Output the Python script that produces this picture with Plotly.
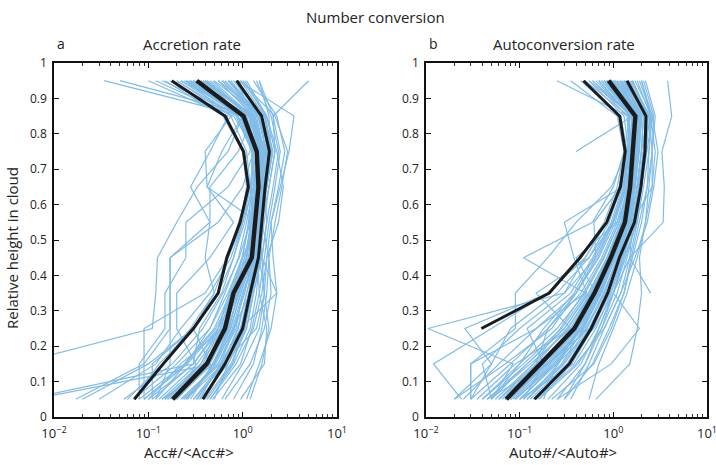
import plotly.graph_objects as go

# Relative height in cloud at which each profile is sampled
HEIGHTS = [0.05, 0.15, 0.25, 0.35, 0.45, 0.55, 0.65, 0.75, 0.85, 0.95]

# Individual normalised accretion-rate profiles (bottom -> top)
ACC_PROFILES = [
    [0.02, 0.10, 0.30, 0.55, 0.70, 0.95, 1.10, 1.00, 0.62, 0.15],
    [0.06, 0.14, 0.28, 0.50, 0.68, 0.90, 1.20, 1.00, 0.66, 0.18],
    [0.07, 0.13, 0.31, 0.56, 0.66, 0.93, 1.15, 1.05, 0.64, 0.17],
    [0.18, 0.42, 0.62, 0.80, 1.25, 1.35, 1.45, 1.40, 1.00, 0.33],
    [0.38, 0.65, 1.00, 1.20, 1.45, 1.60, 1.75, 1.90, 1.60, 0.85],
    [0.25, 0.50, 0.75, 0.95, 1.30, 1.40, 1.50, 1.50, 1.20, 0.45],
    [0.10, 0.30, 0.55, 0.75, 1.10, 1.20, 1.35, 1.30, 0.90, 0.28],
    [0.45, 0.80, 1.20, 1.40, 1.50, 1.70, 1.90, 2.20, 1.80, 1.10],
    [0.60, 1.00, 1.50, 1.70, 1.60, 1.80, 2.10, 2.40, 2.00, 1.40],
    [1.10, 1.50, 2.00, 2.30, 2.10, 2.00, 2.40, 2.80, 2.30, 1.30],
    [0.80, 1.30, 1.60, 1.80, 1.90, 2.20, 2.60, 3.00, 2.20, 0.95],
    [0.15, 0.38, 0.58, 0.78, 1.20, 1.30, 1.20, 1.10, 0.75, 0.25],
    [0.12, 0.25, 0.45, 0.65, 0.90, 1.10, 1.30, 1.25, 0.85, 0.20],
    [0.03, 0.12, 0.22, 0.45, 0.75, 1.00, 1.30, 1.60, 1.30, 0.40],
    [0.22, 0.55, 0.85, 1.00, 1.40, 1.45, 1.60, 1.70, 1.40, 0.60],
    [0.33, 0.60, 0.90, 1.10, 1.35, 1.50, 1.60, 1.80, 1.45, 0.70],
    [0.09, 0.09, 0.17, 0.17, 0.17, 0.55, 1.00, 1.30, 1.10, 0.30],
    [0.003, 0.004, 0.11, 0.12, 0.125, 0.20, 0.33, 0.70, 1.00, 0.40],
    [0.005, 0.30, 0.35, 0.60, 0.80, 1.00, 1.20, 1.30, 0.95, 0.25],
    [0.006, 0.50, 0.70, 0.90, 1.10, 1.25, 1.40, 1.55, 1.20, 0.42],
    [0.017, 0.09, 0.09, 0.40, 0.70, 1.00, 1.20, 1.40, 0.80, 0.12],
    [0.08, 0.08, 0.15, 0.15, 0.25, 0.25, 0.70, 1.20, 1.20, 0.22],
    [0.20, 0.45, 0.30, 0.50, 0.40, 0.45, 0.45, 0.90, 1.30, 0.55],
    [0.50, 0.70, 1.10, 1.30, 1.55, 1.65, 1.70, 2.00, 1.70, 0.95],
    [0.28, 0.48, 0.72, 0.90, 1.20, 1.35, 1.55, 1.60, 1.25, 0.36],
    [0.16, 0.40, 0.68, 0.85, 1.05, 1.25, 1.40, 1.45, 1.10, 0.30],
    [0.40, 0.75, 1.10, 1.30, 1.60, 1.80, 1.70, 1.90, 1.50, 0.75],
    [0.07, 0.20, 0.45, 0.70, 1.00, 1.40, 1.80, 2.10, 1.70, 0.55],
    [0.95, 1.70, 1.80, 1.50, 1.45, 1.50, 1.60, 2.00, 1.90, 1.50],
    [0.35, 0.58, 0.95, 2.30, 1.60, 1.50, 1.35, 1.50, 1.30, 0.85],
    [0.30, 0.60, 0.95, 1.20, 1.40, 1.60, 1.90, 2.20, 2.10, 5.00],
    [0.45, 0.85, 1.30, 1.60, 1.80, 2.00, 2.50, 3.10, 3.50, 0.90],
    [0.11, 0.11, 0.30, 0.55, 0.80, 1.05, 1.25, 1.50, 1.15, 0.27],
    [0.25, 0.62, 1.40, 1.70, 1.50, 1.30, 1.55, 1.65, 1.30, 0.40],
    [0.055, 0.18, 0.38, 0.62, 0.92, 1.20, 1.35, 1.40, 1.00, 0.034],
    [0.14, 0.50, 0.80, 1.20, 1.10, 1.30, 1.50, 1.70, 1.30, 0.05],
    [0.65, 1.20, 1.70, 2.00, 1.90, 1.60, 1.40, 1.70, 1.60, 0.70],
    [0.20, 0.32, 0.20, 0.20, 0.45, 0.80, 0.42, 0.60, 1.00, 0.14],
    [0.09, 0.25, 0.52, 0.80, 1.15, 1.30, 1.45, 1.50, 1.05, 0.32],
    [0.35, 0.70, 1.05, 1.25, 1.50, 1.55, 1.65, 1.75, 1.50, 0.65],
    [0.12, 0.17, 0.17, 0.17, 0.17, 0.45, 0.28, 0.45, 0.70, 0.10],
    [0.48, 0.95, 1.25, 1.50, 1.70, 1.90, 2.20, 2.50, 2.10, 1.50],
    [0.24, 0.55, 0.80, 1.05, 1.30, 1.50, 1.80, 2.00, 1.60, 0.80],
    [0.09, 0.26, 0.55, 0.85, 1.20, 1.40, 1.60, 1.70, 1.35, 0.38],
    [0.16, 0.36, 0.62, 0.75, 1.00, 1.15, 1.25, 1.25, 0.95, 0.28],
    [0.30, 0.66, 0.95, 1.15, 1.40, 1.60, 1.75, 1.85, 1.55, 0.50],
    [1.20, 1.60, 1.90, 1.70, 1.80, 2.40, 2.70, 2.30, 1.80, 1.00],
    [0.10, 0.22, 0.62, 0.90, 1.25, 1.45, 0.42, 0.40, 0.75, 0.20],
    [0.15, 0.40, 0.66, 0.82, 1.22, 1.33, 1.50, 1.45, 1.05, 0.35],
    [0.20, 0.45, 0.70, 0.92, 1.30, 1.42, 1.55, 1.55, 1.15, 0.42],
    [0.13, 0.33, 0.60, 0.85, 1.15, 1.38, 1.52, 1.62, 1.20, 0.30],
    [0.26, 0.52, 0.78, 1.00, 1.35, 1.48, 1.62, 1.70, 1.35, 0.55],
    [0.11, 0.30, 0.58, 0.78, 1.10, 1.30, 1.42, 1.35, 0.95, 0.24],
    [0.19, 0.48, 0.74, 0.96, 1.28, 1.45, 1.58, 1.65, 1.25, 0.48],
    [0.32, 0.62, 0.88, 1.10, 1.42, 1.52, 1.68, 1.80, 1.45, 0.62],
    [0.08, 0.24, 0.50, 0.74, 1.05, 1.25, 1.38, 1.40, 1.00, 0.26],
    [0.17, 0.43, 0.65, 0.88, 1.18, 1.40, 1.55, 1.58, 1.22, 0.38],
    [0.23, 0.58, 0.82, 1.02, 1.32, 1.50, 1.70, 1.95, 1.55, 0.72],
    [0.42, 0.78, 1.05, 1.25, 1.50, 1.62, 1.80, 2.05, 1.75, 1.05],
    [0.14, 0.36, 0.55, 0.72, 0.98, 1.18, 1.32, 1.28, 0.88, 0.22],
]

# Individual normalised autoconversion-rate profiles (bottom -> top)
AUTO_PROFILES = [
    [0.07, 0.17, 0.38, 0.62, 0.95, 1.30, 1.50, 1.60, 1.70, 0.90],
    [0.10, 0.25, 0.50, 0.80, 1.10, 1.50, 1.80, 2.00, 2.10, 1.20],
    [0.05, 0.12, 0.30, 0.55, 0.85, 1.20, 1.40, 1.50, 1.50, 0.70],
    [0.14, 0.34, 0.58, 0.87, 1.15, 1.65, 1.95, 2.20, 2.20, 1.40],
    [0.03, 0.08, 0.20, 0.45, 0.75, 1.10, 1.35, 1.45, 1.30, 0.55],
    [0.20, 0.45, 0.70, 1.00, 1.30, 1.80, 2.10, 2.40, 2.50, 1.80],
    [0.06, 0.15, 0.32, 0.58, 0.90, 1.25, 1.55, 1.70, 1.80, 1.00],
    [0.09, 0.22, 0.45, 0.70, 1.00, 1.40, 1.60, 1.75, 1.90, 1.10],
    [0.04, 0.10, 0.25, 0.50, 0.80, 1.15, 1.45, 1.60, 1.60, 0.75],
    [0.12, 0.30, 0.55, 0.85, 1.20, 1.55, 1.80, 2.00, 2.30, 1.50],
    [0.025, 0.06, 0.15, 0.40, 0.70, 1.05, 1.30, 1.40, 1.20, 0.45],
    [0.30, 0.60, 0.90, 1.30, 1.60, 2.00, 2.30, 2.60, 2.40, 1.60],
    [0.08, 0.18, 0.12, 0.35, 0.60, 0.95, 1.25, 1.55, 1.65, 0.85],
    [0.05, 0.04, 0.10, 0.30, 0.65, 1.00, 1.40, 1.70, 1.90, 1.30],
    [0.15, 0.40, 0.80, 1.20, 1.70, 2.30, 2.70, 3.00, 2.60, 2.00],
    [0.02, 0.05, 0.08, 0.25, 0.55, 0.90, 1.20, 1.50, 1.40, 0.60],
    [0.024, 0.012, 0.05, 0.20, 0.45, 0.80, 1.10, 1.30, 1.10, 0.35],
    [0.05, 0.085, 0.0105, 0.30, 0.50, 0.85, 1.20, 1.40, 1.50, 0.80],
    [0.35, 0.55, 0.80, 1.20, 1.50, 1.80, 2.00, 2.20, 2.30, 1.30],
    [0.03, 0.03, 0.09, 0.09, 0.20, 0.40, 0.95, 1.40, 1.80, 0.95],
    [0.03, 0.03, 0.15, 0.50, 0.11, 0.60, 1.00, 1.30, 1.50, 0.70],
    [0.55, 0.70, 1.00, 1.40, 1.80, 2.20, 2.60, 2.80, 2.50, 2.00],
    [0.11, 0.28, 0.48, 0.75, 1.05, 1.45, 1.70, 1.90, 2.00, 1.25],
    [0.07, 0.20, 0.42, 0.66, 0.98, 1.35, 1.60, 1.80, 1.85, 1.00],
    [0.045, 0.13, 0.35, 0.60, 0.92, 1.28, 1.50, 1.65, 1.75, 0.95],
    [0.18, 0.25, 0.62, 1.00, 1.35, 1.75, 2.00, 2.30, 2.60, 1.70],
    [0.08, 0.19, 0.40, 0.65, 0.40, 1.10, 1.50, 1.70, 1.55, 0.65],
    [None, None, None, None, None, None, None, 0.40, 1.60, 0.90],
    [None, None, None, 2.50, 1.50, 1.60, 1.90, 2.10, 2.30, 1.40],
    [0.30, 0.50, 0.70, 1.00, 1.50, 3.40, 3.50, 3.30, 4.20, 3.80],
    [0.25, 0.50, 0.75, 1.00, 1.30, 1.60, 2.60, 2.60, 2.80, 2.20],
    [0.22, 0.62, 0.95, 1.30, 1.55, 1.90, 2.30, 2.40, 2.60, 1.90],
    [0.06, 0.14, 0.27, 0.48, 0.78, 1.15, 1.40, 1.55, 1.60, 0.60],
    [0.04, 0.11, 0.28, 0.52, 0.38, 0.30, 1.25, 1.50, 1.70, 0.80],
    [0.10, 0.38, 0.65, 0.95, 1.25, 1.60, 1.85, 2.10, 2.20, 1.35],
    [0.02, 0.07, 0.22, 0.40, 0.68, 1.00, 1.30, 1.50, 1.45, 0.50],
    [0.09, 0.24, 0.52, 0.78, 1.12, 1.50, 1.70, 1.85, 1.95, 1.15],
    [0.16, 0.42, 0.75, 1.10, 1.40, 1.75, 2.00, 2.20, 2.45, 1.55],
    [0.65, 1.50, 1.80, 2.00, 1.90, 2.20, 2.40, 2.60, 2.70, 2.10],
    [0.05, 0.10, 0.18, 0.38, 0.62, 0.98, 1.30, 1.50, 1.45, 0.25],
    [0.07, 0.15, 0.20, 0.40, 0.65, 0.62, 1.20, 1.45, 1.60, 0.55],
    [0.12, 0.26, 0.42, 0.70, 1.02, 1.40, 1.65, 1.80, 1.90, 1.05],
    [0.035, 0.09, 0.35, 0.15, 0.55, 1.00, 1.35, 1.60, 1.75, 0.85],
    [0.08, 0.20, 0.48, 0.72, 1.00, 1.38, 1.62, 1.75, 1.80, 1.20],
    [0.25, 0.95, 1.90, 1.00, 1.25, 1.70, 1.90, 2.10, 2.30, 1.60],
    [0.045, 0.20, 0.55, 0.90, 1.20, 1.45, 1.70, 1.85, 2.00, 1.35],
    [0.11, 0.18, 0.35, 0.58, 0.88, 1.22, 1.48, 1.65, 1.70, 0.90],
    [0.03, 0.05, 0.026, 0.20, 0.50, 0.85, 1.15, 1.40, 1.50, 0.70],
    [0.075, 0.18, 0.40, 0.64, 0.96, 1.34, 1.55, 1.65, 1.75, 0.95],
    [0.065, 0.16, 0.36, 0.60, 0.93, 1.30, 1.50, 1.60, 1.70, 0.85],
    [0.10, 0.24, 0.46, 0.72, 1.02, 1.42, 1.68, 1.85, 1.95, 1.10],
    [0.055, 0.14, 0.33, 0.57, 0.88, 1.24, 1.46, 1.58, 1.62, 0.80],
    [0.085, 0.21, 0.44, 0.68, 0.99, 1.37, 1.62, 1.78, 1.88, 1.05],
    [0.12, 0.29, 0.52, 0.82, 1.10, 1.52, 1.78, 1.98, 2.10, 1.30],
    [0.045, 0.12, 0.30, 0.54, 0.86, 1.22, 1.45, 1.55, 1.58, 0.75],
    [0.09, 0.23, 0.47, 0.74, 1.06, 1.46, 1.72, 1.88, 2.02, 1.20],
    [0.07, 0.19, 0.41, 0.65, 0.97, 1.36, 1.58, 1.72, 1.80, 0.98],
    [0.13, 0.32, 0.56, 0.86, 1.14, 1.60, 1.88, 2.10, 2.25, 1.45],
    [0.06, 0.17, 0.37, 0.61, 0.92, 1.30, 1.52, 1.66, 1.72, 0.92],
    [0.16, 0.36, 0.60, 0.92, 1.22, 1.70, 1.98, 2.25, 2.35, 1.60],
]

# Summary profiles (lower, middle, upper)
ACC_LOW = [0.071, 0.144, 0.30, 0.55, 0.68, 0.94, 1.15, 1.02, 0.65, 0.177]
ACC_MID = [0.181, 0.416, 0.65, 0.80, 1.25, 1.35, 1.47, 1.41, 1.02, 0.326]
ACC_HIGH = [0.378, 0.65, 1.00, 1.20, 1.47, 1.59, 1.73, 1.92, 1.59, 0.865]

AUTO_LOW = [None, None, 0.039, 0.207, 0.44, 0.85, 1.19, 1.34, 1.17, 0.48]
AUTO_MID = [0.072, 0.169, 0.384, 0.63, 0.94, 1.33, 1.51, 1.61, 1.72, 0.89]
AUTO_HIGH = [0.144, 0.339, 0.58, 0.87, 1.16, 1.68, 1.97, 2.18, 2.23, 1.40]

X_TICK_VALS = [0.01, 0.1, 1, 10]
X_TICK_TEXT = ["10<sup>\u22122</sup>", "10<sup>\u22121</sup>", "10<sup>0</sup>", "10<sup>1</sup>"]
Y_TICK_VALS = [0, 0.1, 0.2, 0.3, 0.4, 0.5, 0.6, 0.7, 0.8, 0.9, 1]
Y_TICK_TEXT = ["0", "0.1", "0.2", "0.3", "0.4", "0.5", "0.6", "0.7", "0.8", "0.9", "1"]

FONT = "Open Sans, Lato, DejaVu Sans, sans-serif"
BLUE = "#80bce8"
DARK = "#1c1c1c"
W, H = 716, 465

fig = go.Figure()


def add_panel(profiles, low, mid, high, xa, ya):
    for prof in profiles:
        fig.add_trace(go.Scatter(
            x=prof, y=HEIGHTS, mode="lines", xaxis=xa, yaxis=ya,
            line=dict(color=BLUE, width=1.2), hoverinfo="skip", showlegend=False))
    for prof, w in ((low, 3.0), (high, 3.0), (mid, 4.4)):
        fig.add_trace(go.Scatter(
            x=prof, y=HEIGHTS, mode="lines", xaxis=xa, yaxis=ya,
            line=dict(color=DARK, width=w), hoverinfo="skip", showlegend=False))


add_panel(ACC_PROFILES, ACC_LOW, ACC_MID, ACC_HIGH, "x", "y")
add_panel(AUTO_PROFILES, AUTO_LOW, AUTO_MID, AUTO_HIGH, "x2", "y2")

minor_vals = [d * 10.0 ** e for e in (-2, -1, 0) for d in range(2, 10)]

xaxis_common = dict(
    type="log", range=[-2, 1], showgrid=False, zeroline=False, automargin=False,
    showline=True, linecolor="#111", linewidth=1.6, mirror="ticks",
    ticks="inside", ticklen=5, tickwidth=1, tickcolor="#111",
    tickvals=X_TICK_VALS, ticktext=X_TICK_TEXT, ticklabelstandoff=4,
    ticklabeloverflow="allow",
    tickfont=dict(family=FONT, size=13, color="#222"),
    minor=dict(ticks="inside", ticklen=3, tickwidth=0.8, tickcolor="#333",
               tickvals=minor_vals, showgrid=False),
)
yaxis_common = dict(
    range=[0, 1], showgrid=False, zeroline=False, automargin=False,
    showline=True, linecolor="#111", linewidth=1.6, mirror="ticks",
    ticks="inside", ticklen=5, tickwidth=1, tickcolor="#111",
    tickvals=Y_TICK_VALS, ticktext=Y_TICK_TEXT, ticklabelstandoff=3,
    ticklabeloverflow="allow",
    tickfont=dict(family=FONT, size=12, color="#222"),
)

y_dom = [1 - 417 / H, 1 - 63 / H]
fig.update_layout(
    width=W, height=H,
    margin=dict(l=0, r=0, t=0, b=0, autoexpand=False),
    paper_bgcolor="white", plot_bgcolor="white",
    xaxis=dict(domain=[54 / W, 337 / W], anchor="y", **xaxis_common),
    yaxis=dict(domain=y_dom, anchor="x", **yaxis_common),
    xaxis2=dict(domain=[426 / W, 707 / W], anchor="y2", **xaxis_common),
    yaxis2=dict(domain=y_dom, anchor="x2", **yaxis_common),
)


def label(text, x, y, size, angle=0):
    fig.add_annotation(
        text=text, x=x / W, y=1 - y / H, xref="paper", yref="paper",
        showarrow=False, textangle=angle, xanchor="center", yanchor="middle",
        font=dict(family=FONT, size=size, color="#222"))


label("Number conversion", 375, 17, 15)
label("a", 61, 44, 14)
label("Accretion rate", 192, 44, 15)
label("b", 433, 44, 14)
label("Autoconversion rate", 564, 44, 15)
label("Relative height in cloud", 12, 248, 15, angle=-90)
label("Acc#/&lt;Acc#&gt;", 189, 452, 15)
label("Auto#/&lt;Auto#&gt;", 563, 452, 15)

fig.write_html("out.html")
